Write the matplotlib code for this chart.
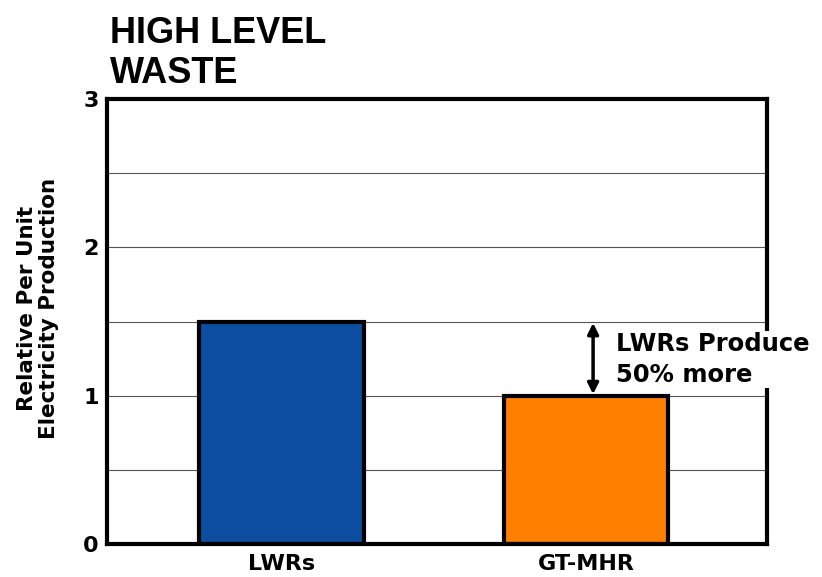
import matplotlib.pyplot as plt

categories = ["LWRs", "GT-MHR"]
values = [1.5, 1.0]
bar_colors = ["#0c4da0", "#ff8000"]
y_ticks = [0, 1, 2, 3]
note = "LWRs Produce\n50% more"

fig = plt.figure(figsize=(8.22, 5.77), dpi=100)
ax = fig.add_axes([107 / 822, 1 - 544 / 577, 660 / 822, 445 / 577])

pos = list(range(len(categories)))
ax.bar(pos, values, width=0.54, color=bar_colors, edgecolor="black", linewidth=3, zorder=3)

ax.set_xlim(-0.573, 1.594)
ax.set_ylim(0, 3)
ax.set_yticks(y_ticks)
ax.set_yticks([0.5, 1.5, 2.5], minor=True)
ax.grid(axis="y", which="both", color="#555555", linewidth=0.8, zorder=0)
ax.set_xticks(pos)
ax.set_xticklabels(categories, fontsize=16, fontweight="bold", family="DejaVu Sans")
ax.tick_params(axis="both", which="both", length=0)
ax.tick_params(axis="x", pad=7)
ax.tick_params(axis="y", pad=6, labelsize=16)
for lab in ax.get_yticklabels():
    lab.set_fontweight("bold")
for s in ax.spines.values():
    s.set_linewidth(3)
    s.set_zorder(4)

ax.set_ylabel("Relative Per Unit\nElectricity Production", fontsize=15.5,
              fontweight="bold", linespacing=1.1)
ax.yaxis.set_label_coords(-0.073, 0.53)

# difference arrow between the two bars
ax.annotate("", xy=(1.023, 1.49), xytext=(1.023, values[1] + 0.01),
            arrowprops=dict(arrowstyle="<|-|>", color="black", lw=2.5,
                            mutation_scale=16, shrinkA=0, shrinkB=0), zorder=5)
ax.text(1.098, 1.245, note, fontsize=17.5, fontweight="bold", va="center", ha="left",
        linespacing=1.35, zorder=6, clip_on=False,
        bbox=dict(facecolor="white", edgecolor="none", pad=1))

fig.text(110 / 822, 1 - 16 / 577, "HIGH LEVEL\nWASTE", fontsize=26, fontweight="bold",
         family="Liberation Sans", va="top", ha="left", linespacing=1.2)

fig.savefig("out.png", dpi=100)
